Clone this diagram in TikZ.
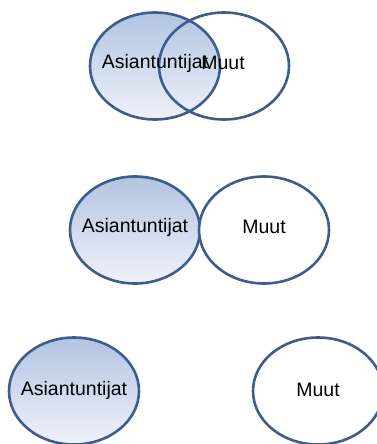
\documentclass[tikz,border=0pt]{standalone}
\usepackage{fontspec}
\setmainfont{Liberation Sans}
\usetikzlibrary{shapes.geometric}
\definecolor{edge}{RGB}{62,92,140}
\definecolor{topblue}{RGB}{178,196,226}
\definecolor{botblue}{RGB}{240,242,250}
\begin{document}
\begin{tikzpicture}[x=1pt,y=-1pt,
  ell/.style={ellipse,draw=edge,line width=2.6pt,minimum width=130pt,minimum height=107pt,inner sep=0pt},
  blue/.style={ell,top color=topblue,bottom color=botblue},
  white/.style={ell,fill=white},
  lbl/.style={font=\fontsize{19.5}{22}\selectfont,text=black}]
\useasboundingbox (0,0) rectangle (377,444);
% row 1
\node[blue] (a1) at (155,66) {};
\node[ell] (m1) at (224,66) {};
\node[lbl] (ta1) at (155,63) {Asiantuntijat};
\node[lbl] (tm1) at (223,63) {Muut};
% row 2
\node[blue] (a2) at (135,230) {};
\node[white] (m2) at (264,230) {};
\node[lbl] (ta2) at (135,227) {Asiantuntijat};
\node[lbl] (tm2) at (264,227) {Muut};
% row 3
\node[blue] (a3) at (74,391) {};
\node[white] (m3) at (318,391) {};
\node[lbl] (ta3) at (74,390) {Asiantuntijat};
\node[lbl] (tm3) at (318,390) {Muut};
\end{tikzpicture}
\end{document}
